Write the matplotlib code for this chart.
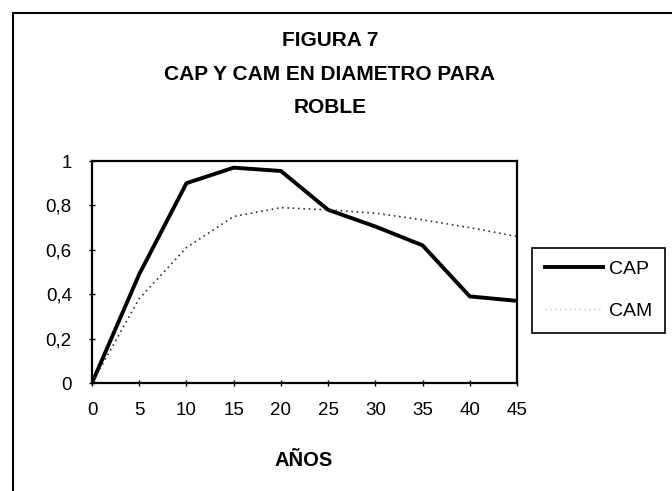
import matplotlib
matplotlib.use("Agg")
import matplotlib.pyplot as plt
from matplotlib.lines import Line2D

years = [0, 5, 10, 15, 20, 25, 30, 35, 40, 45]
cap = [0.0, 0.49, 0.90, 0.97, 0.955, 0.78, 0.705, 0.62, 0.39, 0.37]
cam = [0.0, 0.38, 0.61, 0.75, 0.79, 0.78, 0.765, 0.735, 0.70, 0.66]
yticks = [0, 0.2, 0.4, 0.6, 0.8, 1.0]
ytick_labels = ["0", "0,2", "0,4", "0,6", "0,8", "1"]
xticks = [0, 5, 10, 15, 20, 25, 30, 35, 40, 45]
title_lines = ["FIGURA 7", "CAP Y CAM EN DIAMETRO PARA", "ROBLE"]

plt.rcParams['font.family'] = ['Liberation Sans', 'DejaVu Sans']

W, H = 672, 491
fig = plt.figure(figsize=(W / 100, H / 100), dpi=100)
ax = fig.add_axes([92 / W, 1 - 383 / H, (517 - 92) / W, (383 - 161) / H])

l_cap, = ax.plot(years, cap, color='black', lw=2.8, solid_joinstyle='round', label='CAP')
l_cam, = ax.plot(years, cam, color='#333333', lw=1.2, linestyle=(0, (1, 2.2)), label='CAM')

ax.set_xlim(0, 45)
ax.set_ylim(0, 1)
ax.set_xticks(xticks)
ax.set_xticklabels([str(x) for x in xticks])
ax.set_yticks(yticks)
ax.set_yticklabels(ytick_labels)
ax.tick_params(axis='both', direction='inout', length=5, width=1, labelsize=13.5, colors='black')
ax.tick_params(axis='y', pad=12)
ax.tick_params(axis='x', pad=11)
for s in ax.spines.values():
    s.set_linewidth(1.6)
    s.set_color('black')

h_cam = Line2D([], [], color='#bbbbbb', lw=1.0, linestyle=(0, (1, 2.5)))
leg = fig.legend([l_cap, h_cam], ['CAP', 'CAM'], loc='upper left',
                 bbox_to_anchor=(532 / W, 1 - 248 / H), borderaxespad=0,
                 fancybox=False, edgecolor='black', framealpha=1,
                 prop={'size': 14}, handlelength=3.0, handletextpad=0.3,
                 labelspacing=1.25, borderpad=0.65)
leg.get_frame().set_linewidth(1.2)

ys = [41, 74, 108]
for t, y in zip(title_lines, ys):
    fig.text(330 / W, 1 - y / H, t, ha='center', va='center', fontsize=15, fontweight='bold')

fig.text(304 / W, 1 - 461 / H, "AÑOS", ha='center', va='center', fontsize=14.5, fontweight='bold')

# outer frame
fig.add_artist(Line2D([13 / W, 1.0], [1 - 13 / H, 1 - 13 / H], transform=fig.transFigure, color='black', lw=1.5))
fig.add_artist(Line2D([13 / W, 13 / W], [1 - 13 / H, 0], transform=fig.transFigure, color='black', lw=1.5))

fig.savefig('out.png', dpi=100)
